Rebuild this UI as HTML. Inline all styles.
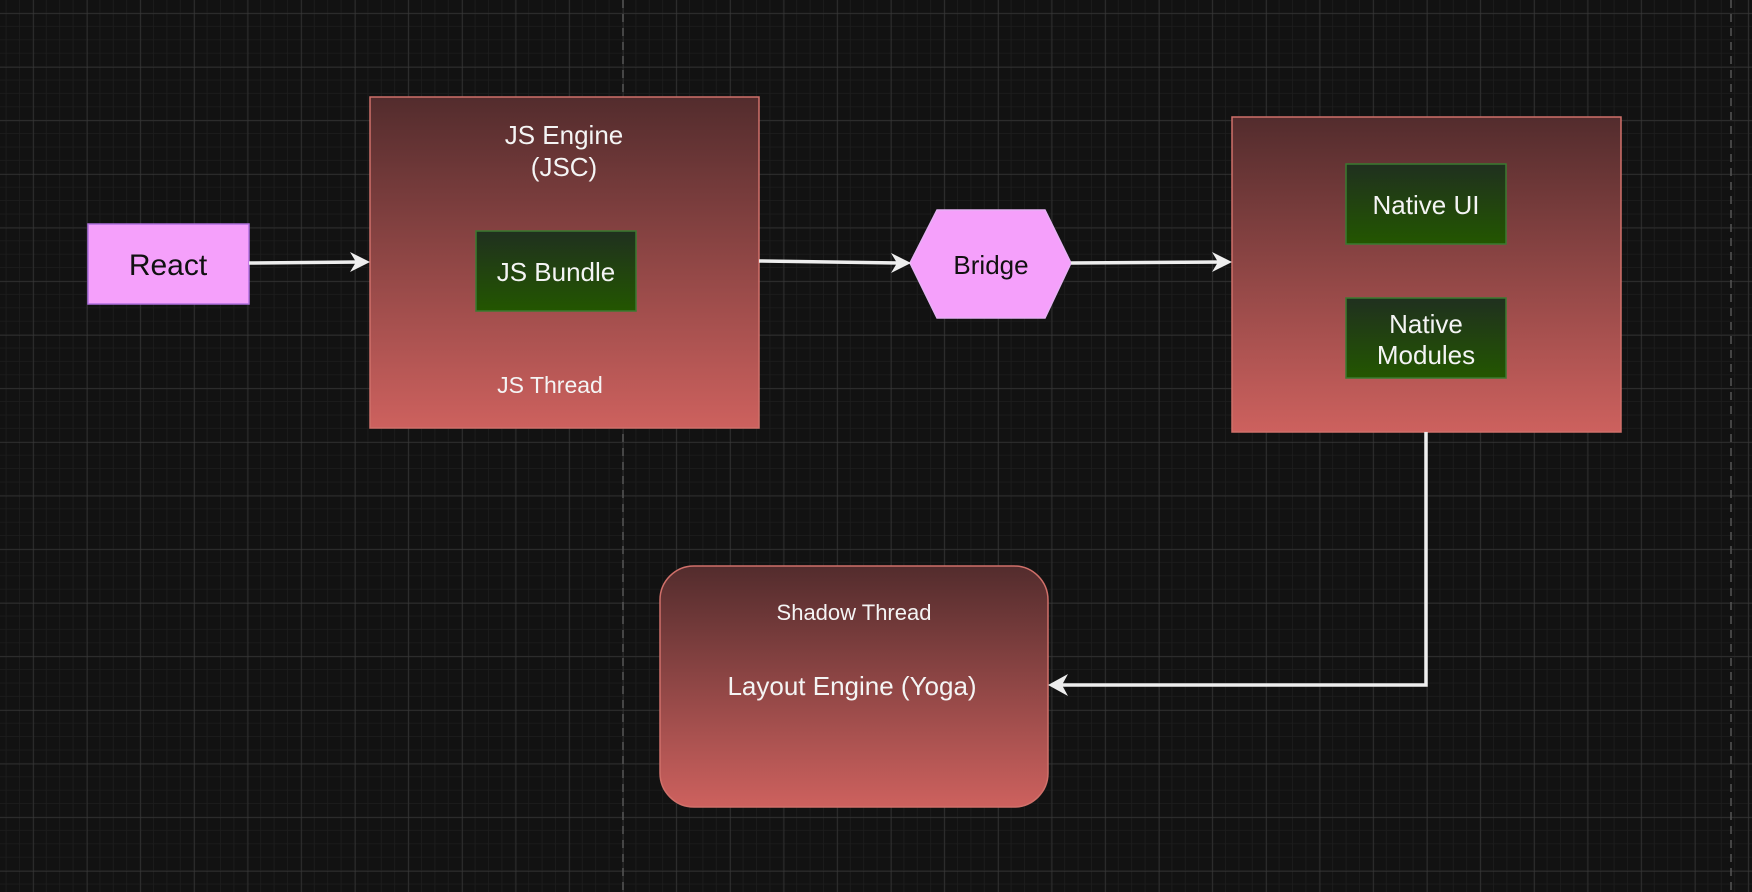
<!DOCTYPE html>
<html><head><meta charset="utf-8"><style>
html,body{margin:0;padding:0;background:#121212;width:1752px;height:892px;overflow:hidden}
svg{display:block}
text{font-family:"Comic Sans MS","Liberation Sans",sans-serif}
</style></head><body>
<svg width="1752" height="892" viewBox="0 0 1752 892" xmlns="http://www.w3.org/2000/svg">
<defs>
<pattern id="minor" x="6.5" y="0" width="13.4" height="13.4" patternUnits="userSpaceOnUse">
<path d="M13.4 0V13.4M0 13.4H13.4" stroke="#1e1e1e" stroke-width="1.5" fill="none"/>
</pattern>
<pattern id="major" x="33.3" y="13.3" width="53.6" height="53.6" patternUnits="userSpaceOnUse">
<path d="M0 0V53.6M0 0H53.6" stroke="#3a3a3a" stroke-width="1.2" fill="none"/>
</pattern>
<linearGradient id="red" x1="0" y1="0" x2="0" y2="1">
<stop offset="0" stop-color="#532c2d"/><stop offset="1" stop-color="#cd615e"/>
</linearGradient>
<linearGradient id="green" x1="0" y1="0" x2="0" y2="1">
<stop offset="0" stop-color="#20301f"/><stop offset="1" stop-color="#235600"/>
</linearGradient>
</defs>
<rect width="1752" height="892" fill="#121212"/>
<rect width="1752" height="892" fill="url(#minor)"/>
<rect width="1752" height="892" fill="url(#major)"/>
<line x1="623" y1="0" x2="623" y2="892" stroke="#555" stroke-width="1.5" stroke-dasharray="8 6"/>
<line x1="1731" y1="0" x2="1731" y2="892" stroke="#555" stroke-width="1.5" stroke-dasharray="8 6"/>

<!-- React -->
<rect x="88" y="224" width="161" height="80" fill="#f5a0fb" stroke="#b070e0" stroke-width="1.5"/>
<text x="168" y="275" font-size="30" text-anchor="middle" fill="#111">React</text>

<!-- JS Engine -->
<rect x="370" y="97" width="389" height="331" fill="url(#red)" stroke="#d0706a" stroke-width="1.5"/>
<text x="564" y="144" font-size="26" text-anchor="middle" fill="#f4f4f4">JS Engine</text>
<text x="564" y="176" font-size="26" text-anchor="middle" fill="#f4f4f4">(JSC)</text>
<rect x="476" y="231" width="160" height="80" fill="url(#green)" stroke="#3a7a30" stroke-width="1.5"/>
<text x="556" y="281" font-size="26" text-anchor="middle" fill="#f4f4f4">JS Bundle</text>
<text x="550" y="393" font-size="23" text-anchor="middle" fill="#f4f4f4">JS Thread</text>

<!-- Bridge -->
<polygon points="910,263 937,210 1045,210 1071,263 1045,318 937,318" fill="#f5a0fb" stroke="#e8b0f5" stroke-width="1.5"/>
<text x="991" y="274" font-size="26" text-anchor="middle" fill="#111">Bridge</text>

<!-- Native box -->
<rect x="1232" y="117" width="389" height="315" fill="url(#red)" stroke="#d0706a" stroke-width="1.5"/>
<rect x="1346" y="164" width="160" height="80" fill="url(#green)" stroke="#3a7a30" stroke-width="1.5"/>
<text x="1426" y="214" font-size="26" text-anchor="middle" fill="#f4f4f4">Native UI</text>
<rect x="1346" y="298" width="160" height="80" fill="url(#green)" stroke="#3a7a30" stroke-width="1.5"/>
<text x="1426" y="333" font-size="26" text-anchor="middle" fill="#f4f4f4">Native</text>
<text x="1426" y="364" font-size="26" text-anchor="middle" fill="#f4f4f4">Modules</text>

<!-- Shadow -->
<rect x="660" y="566" width="388" height="241" rx="34" fill="url(#red)" stroke="#d0706a" stroke-width="1.5"/>
<text x="854" y="620" font-size="22" text-anchor="middle" fill="#f4f4f4">Shadow Thread</text>
<text x="852" y="695" font-size="26" text-anchor="middle" fill="#f4f4f4">Layout Engine (Yoga)</text>

<!-- Connectors -->
<g stroke="#eeeeee" stroke-width="3.5" fill="none">
<path d="M249 263 L360 262"/>
<path d="M759 261 L902 263"/>
<path d="M1071 263 L1223 262"/>
<path d="M1426 432 V685 H1058"/>
</g>
<g fill="#eeeeee">
<polygon points="370,262 350,252 356,262 350,272"/>
<polygon points="911,263 891,253 897,263 891,273"/>
<polygon points="1232,262 1212,252 1218,262 1212,272"/>
<polygon points="1048,685 1068,674 1062,685 1068,696"/>
</g>
</svg>
</body></html>
